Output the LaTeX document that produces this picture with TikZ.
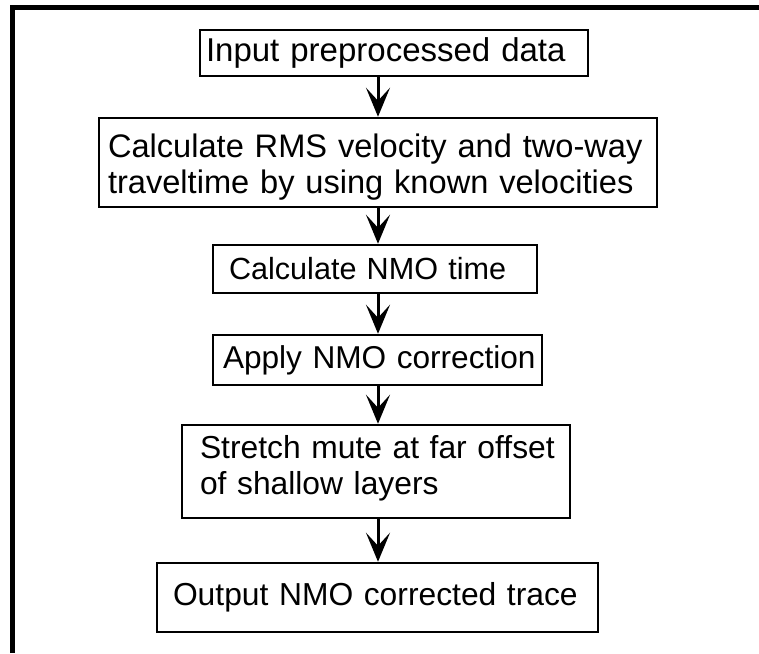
\documentclass[tikz,border=0pt]{standalone}
\usepackage{fontspec}
\setmainfont{Liberation Sans}
\usetikzlibrary{arrows.meta}
\newcommand{\stepfont}[1]{\fontsize{#1}{36}\selectfont}
\begin{document}
\begin{tikzpicture}[x=1pt,y=-1pt,
  stepbox/.style={draw, line width=2.5pt, inner ysep=0pt, align=left},
  flow/.style={line width=3pt, -{Stealth[length=29pt,width=24pt,inset=13pt]}},
  frame/.style={line width=5pt}]
\useasboundingbox (0,0) rectangle (759,653);
% outer frame (top and left edges only)
\draw[frame] (12.5,653) -- (12.5,7.5) -- (759,7.5);
% process steps
\node[stepbox, font=\stepfont{33}, inner xsep=6pt, text width=376pt, minimum height=46pt] (s1) at (394,53)
  {\mbox{Input preprocessed data}};
\node[stepbox, font=\stepfont{32.6}, inner xsep=9pt, text width=540pt, minimum height=89pt,
  text height=32pt] (s2) at (378,162.5)
  {\mbox{Calculate RMS velocity and two-way}\\\mbox{traveltime by using known velocities}};
\node[stepbox, font=\stepfont{30.6}, inner xsep=16pt, text width=292pt, minimum height=48pt] (s3) at (375,269)
  {\mbox{Calculate NMO time}};
\node[stepbox, font=\stepfont{31.6}, inner xsep=10pt, text width=309pt, minimum height=50pt] (s4) at (377.5,360)
  {\mbox{Apply NMO correction}};
\node[stepbox, font=\stepfont{31.8}, inner xsep=18pt, text width=352pt, minimum height=93pt,
  text depth=49pt] (s5) at (376,471.5)
  {\mbox{Stretch mute at far offset}\\\mbox{of shallow layers}};
\node[stepbox, font=\stepfont{31.8}, inner xsep=16pt, text width=409pt, minimum height=69pt] (s6) at (377.5,597.5)
  {\mbox{Output NMO corrected trace}};
% connectors
\draw[flow] (s1.south -| s2.north) -- (s2.north);
\draw[flow] (s2.south) -- (s3.north -| s2.south);
\draw[flow] (s3.south -| s2.south) -- (s4.north -| s2.south);
\draw[flow] (s4.south -| s2.south) -- (s5.north -| s2.south);
\draw[flow] (s5.south -| s2.south) -- (s6.north -| s2.south);
\end{tikzpicture}
\end{document}
